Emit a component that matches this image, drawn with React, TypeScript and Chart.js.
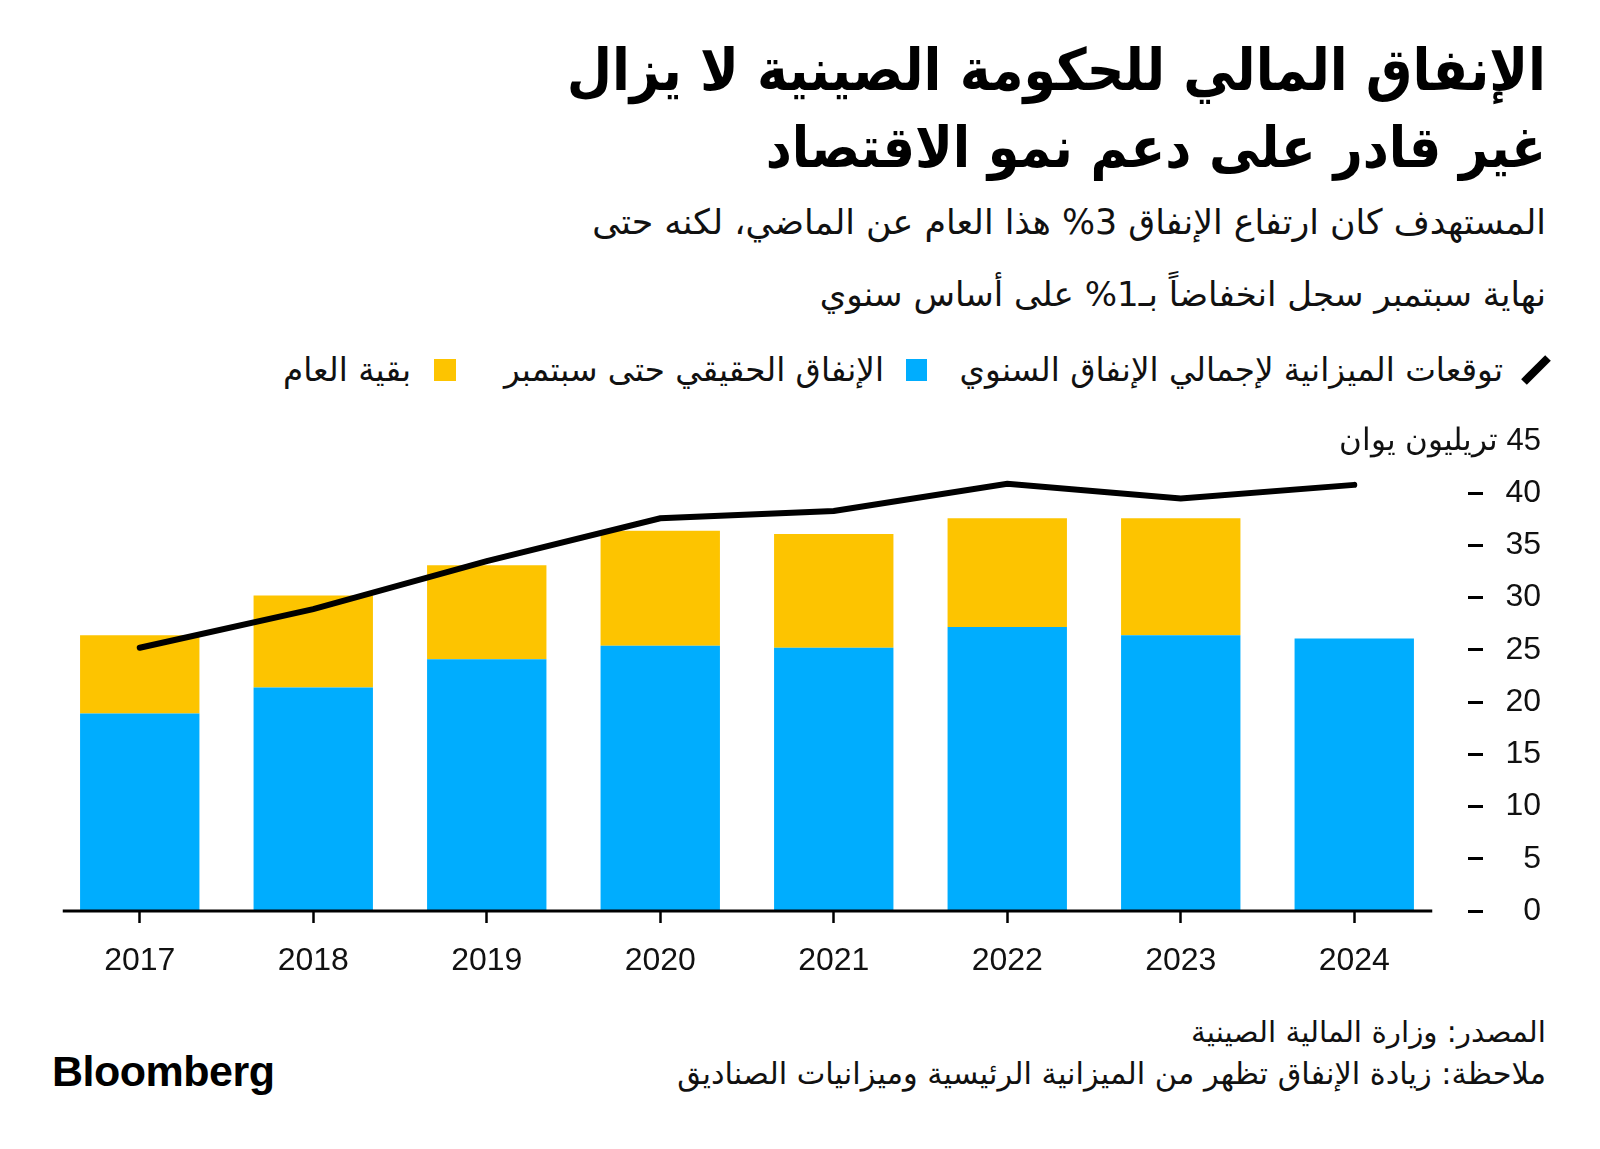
import React, { useEffect, useRef } from 'react';
import { Chart, registerables } from 'chart.js';
Chart.register(...registerables);

const years = ['2017', '2018', '2019', '2020', '2021', '2022', '2023', '2024'];
const actualToSept = [18.9, 21.4, 24.1, 25.4, 25.2, 27.2, 26.4, 26.1];
const restOfYear = [7.5, 8.8, 9.0, 11.0, 10.9, 10.4, 11.2, null];
const budgetForecast = [25.2, 28.9, 33.5, 37.6, 38.3, 40.9, 39.5, 40.8];
const yTickValues = [0, 5, 10, 15, 20, 25, 30, 35, 40, 45];
const unitLabel = '45 تريليون يوان';

const BLUE = '#00adfe';
const YELLOW = '#fdc400';
const AR_COND = "'DejaVu Sans Condensed', 'DejaVu Sans', sans-serif";
const AR_FONT = "'DejaVu Sans', sans-serif";
const NUM_FONT = "'Liberation Sans', Arial, sans-serif";

const unitPlugin = {
  id: 'unitLabel',
  afterDraw(chart: any) {
    const y = chart.scales.y;
    const ctx = chart.ctx;
    ctx.save();
    ctx.font = `31px ${NUM_FONT}`;
    ctx.fillStyle = '#111';
    ctx.textAlign = 'right';
    ctx.textBaseline = 'middle';
    ctx.direction = 'rtl';
    ctx.fillText(unitLabel, y.right, y.getPixelForValue(45));
    ctx.restore();
  },
};

const axisLinePlugin = {
  id: 'axisLine',
  afterDatasetsDraw(chart: any) {
    const x = chart.scales.x;
    const y = chart.scales.y;
    const ctx = chart.ctx;
    const n = x.ticks.length;
    const x0 = x.getPixelForValue(0) - 77;
    const x1 = x.getPixelForValue(n - 1) + 78;
    const yy = y.getPixelForValue(0);
    ctx.save();
    ctx.strokeStyle = '#000';
    ctx.lineWidth = 3;
    ctx.beginPath();
    ctx.moveTo(x0, yy);
    ctx.lineTo(x1, yy);
    ctx.stroke();
    ctx.restore();
  },
};

export default function App() {
  const ref = useRef<HTMLCanvasElement>(null);
  useEffect(() => {
    document.body.style.margin = '0';
    const tickFont = { family: NUM_FONT, size: 32 };
    const chart = new Chart(ref.current!, {
      type: 'bar',
      data: {
        labels: years,
        datasets: [
          {
            type: 'line',
            label: 'توقعات الميزانية لإجمالي الإنفاق السنوي',
            data: budgetForecast,
            borderColor: '#000',
            backgroundColor: '#000',
            borderWidth: 6,
            pointRadius: 0,
            borderCapStyle: 'round',
            borderJoinStyle: 'miter',
            tension: 0,
            order: 0,
            stack: 'line',
          } as any,
          {
            label: 'الإنفاق الحقيقي حتى سبتمبر',
            data: actualToSept,
            backgroundColor: BLUE,
            order: 1,
            stack: 'bars',
          },
          {
            label: 'بقية العام',
            data: restOfYear,
            backgroundColor: YELLOW,
            order: 1,
            stack: 'bars',
          },
        ],
      },
      options: {
        responsive: false,
        animation: false,
        layout: { padding: { left: 53, right: 59, top: 41, bottom: 0 } },
        plugins: { legend: { display: false }, tooltip: { enabled: false } },
        datasets: { bar: { categoryPercentage: 1, barPercentage: 0.688 } },
        scales: {
          x: {
            stacked: true,
            grid: {
              display: true,
              offset: false,
              drawOnChartArea: false,
              tickLength: 12,
              tickWidth: 2.5,
              tickColor: '#000',
            },
            border: { display: false },
            ticks: { font: tickFont, color: '#111', padding: 19 },
            afterFit: (s: any) => {
              s.height = 89;
            },
          },
          y: {
            position: 'right',
            stacked: true,
            min: 0,
            max: 45,
            afterBuildTicks: (s: any) => {
              s.ticks = yTickValues.map((v) => ({ value: v }));
            },
            ticks: {
              font: tickFont,
              color: '#111',
              crossAlign: 'far',
              padding: 10,
              callback: (v: any) => (Number(v) === 45 ? '' : String(v)),
            },
            grid: {
              display: true,
              drawOnChartArea: false,
              tickLength: 42,
              tickWidth: 3,
              tickColor: (c: any) => (c.tick && c.tick.value === 45 ? 'rgba(0,0,0,0)' : '#000'),
              tickBorderDash: [15, 27],
              tickBorderDashOffset: 15,
            },
            border: { display: false },
            afterFit: (s: any) => {
              s.width = 100;
            },
          },
        },
      } as any,
      plugins: [unitPlugin, axisLinePlugin],
    });
    return () => chart.destroy();
  }, []);

  const abs = (style: React.CSSProperties): React.CSSProperties => ({ position: 'absolute', ...style });
  const legendText: React.CSSProperties = {
    fontFamily: AR_FONT,
    fontSize: 32.6,
    lineHeight: '40px',
    color: '#111',
    whiteSpace: 'nowrap',
  };

  return (
    <div style={{ position: 'absolute', left: 0, top: 0, width: 1600, height: 1149, background: '#fff', overflow: 'hidden' }}>
      <div
        dir="rtl"
        style={abs({
          right: 54,
          top: 32,
          fontFamily: AR_COND,
          fontWeight: 'bold',
          fontSize: 58,
          lineHeight: '77px',
          color: '#000',
          whiteSpace: 'nowrap',
          textAlign: 'right',
        })}
      >
        <div>الإنفاق المالي للحكومة الصينية لا يزال</div>
        <div style={{ fontSize: 56.5 }}>غير قادر على دعم نمو الاقتصاد</div>
      </div>
      <div
        dir="rtl"
        style={abs({
          right: 54,
          top: 186,
          fontFamily: AR_FONT,
          fontSize: 34,
          lineHeight: '72px',
          color: '#111',
          whiteSpace: 'nowrap',
          textAlign: 'right',
        })}
      >
        <div style={{ fontSize: 34.8 }}>المستهدف كان ارتفاع الإنفاق 3% هذا العام عن الماضي، لكنه حتى</div>
        <div>نهاية سبتمبر سجل انخفاضاً بـ1% على أساس سنوي</div>
      </div>

      {/* legend */}
      <svg style={abs({ left: 1518, top: 352, width: 36, height: 36 })} viewBox="0 0 36 36">
        <line x1="6" y1="30" x2="30" y2="6" stroke="#000" strokeWidth="8" strokeLinecap="butt" />
      </svg>
      <div dir="rtl" style={abs({ right: 1600 - 1503, top: 350, ...legendText })}>
        توقعات الميزانية لإجمالي الإنفاق السنوي
      </div>
      <div style={abs({ left: 906, top: 359, width: 21, height: 22, background: BLUE })} />
      <div dir="rtl" style={abs({ right: 1600 - 884, top: 350, ...legendText })}>
        الإنفاق الحقيقي حتى سبتمبر
      </div>
      <div style={abs({ left: 434, top: 359, width: 22, height: 22, background: YELLOW })} />
      <div dir="rtl" style={abs({ right: 1600 - 411, top: 350, ...legendText })}>
        بقية العام
      </div>

      <canvas ref={ref} width={1600} height={600} style={abs({ left: 0, top: 400, width: 1600, height: 600 })} />

      <div
        dir="rtl"
        style={abs({
          right: 54,
          top: 1012,
          fontFamily: AR_FONT,
          fontSize: 30,
          lineHeight: '41px',
          color: '#111',
          whiteSpace: 'nowrap',
          textAlign: 'right',
        })}
      >
        <div style={{ fontSize: 29.4 }}>المصدر: وزارة المالية الصينية</div>
        <div style={{ fontSize: 30.4 }}>ملاحظة: زيادة الإنفاق تظهر من الميزانية الرئيسية وميزانيات الصناديق</div>
      </div>
      <div
        style={abs({
          left: 52,
          top: 1046,
          fontFamily: NUM_FONT,
          fontWeight: 'bold',
          fontSize: 43,
          lineHeight: '50px',
          letterSpacing: '-0.5px',
          color: '#000',
        })}
      >
        Bloomberg
      </div>
    </div>
  );
}
